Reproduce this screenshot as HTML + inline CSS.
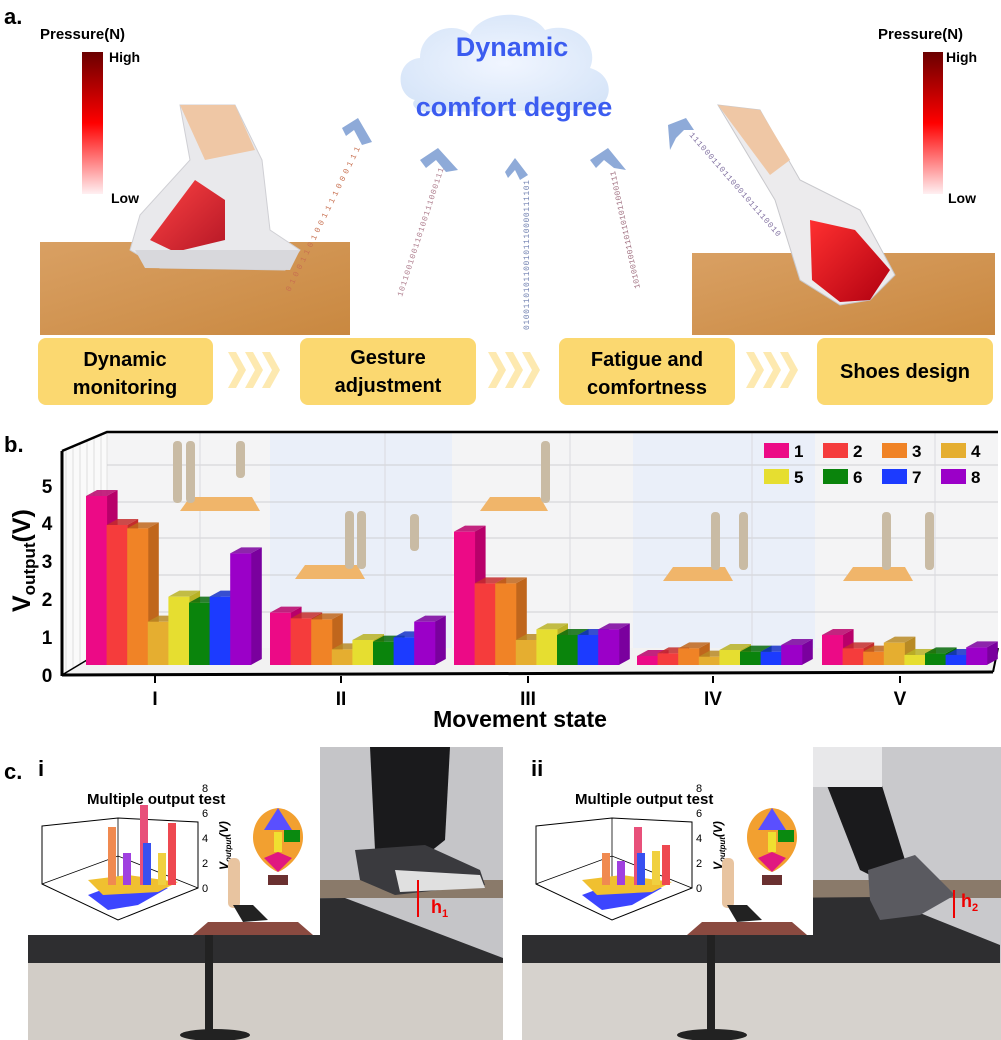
<!DOCTYPE html>
<html><head><meta charset="utf-8"><style>
html,body{margin:0;padding:0;background:#fff;}
svg{display:block;font-family:"Liberation Sans",sans-serif;}
</style></head><body>
<svg id="s" width="1001" height="1040" viewBox="0 0 1001 1040" xmlns="http://www.w3.org/2000/svg">
<defs>
<linearGradient id="cb" x1="0" y1="0" x2="0" y2="1">
<stop offset="0" stop-color="#6a0000"/><stop offset="0.5" stop-color="#ff0000"/><stop offset="1" stop-color="#fff0f2"/></linearGradient>
<linearGradient id="wood" x1="0" y1="0" x2="1" y2="1">
<stop offset="0" stop-color="#d9a063"/><stop offset="1" stop-color="#c98840"/></linearGradient>
<radialGradient id="cloud" cx="0.5" cy="0.5" r="0.6"><stop offset="0" stop-color="#eef4ff"/><stop offset="1" stop-color="#cfe0f7"/></radialGradient>
<linearGradient id="red1" x1="0" y1="0" x2="1" y2="1"><stop offset="0" stop-color="#ff3030"/><stop offset="1" stop-color="#b00010"/></linearGradient>
</defs>
<text x="4" y="24" font-size="22" font-weight="bold">a.</text>
<text x="40" y="39" font-size="15" font-weight="bold">Pressure(N)</text>
<rect x="82" y="52" width="21" height="142" fill="url(#cb)"/>
<text x="109" y="62" font-size="14" font-weight="bold">High</text>
<text x="111" y="203" font-size="14" font-weight="bold">Low</text>
<text x="878" y="39" font-size="15" font-weight="bold">Pressure(N)</text>
<rect x="923" y="52" width="20" height="142" fill="url(#cb)"/>
<text x="946" y="62" font-size="14" font-weight="bold">High</text>
<text x="948" y="203" font-size="14" font-weight="bold">Low</text>
<rect x="40" y="242" width="310" height="93" fill="url(#wood)"/>
<path d="M180 105 L235 105 L262 160 L270 230 L300 250 L285 270 L160 268 L130 250 L140 215 L190 160 Z" fill="#e9e9ec" stroke="#cfcfd4"/>
<path d="M180 105 L235 105 L255 150 L205 160 Z" fill="#efc7a5"/>
<path d="M150 240 L195 180 L225 200 L225 240 L175 252 Z" fill="url(#red1)" opacity="0.9"/>
<path d="M135 250 L300 250 L290 270 L145 268 Z" fill="#d8d8dc"/>
<rect x="692" y="253" width="303" height="82" fill="url(#wood)"/>
<path d="M718 105 L760 110 L800 180 L860 210 L895 275 L870 300 L840 305 L800 280 L775 200 Z" fill="#ecebed" stroke="#c8c8cc"/>
<path d="M718 105 L760 110 L790 160 L770 175 Z" fill="#efc7a5"/>
<path d="M810 220 L855 230 L890 270 L870 300 L840 302 L812 280 Z" fill="url(#red1)"/>
<path d="M415 100 C395 95 395 60 420 58 C420 30 455 20 470 35 C480 10 530 8 545 30 C575 20 600 45 590 68 C615 75 615 105 590 110 L430 112 C415 112 410 104 415 100 Z" fill="url(#cloud)" opacity="0.85"/>
<text x="512" y="56" font-size="27" font-weight="bold" fill="#3b5cf0" text-anchor="middle">Dynamic</text>
<text x="514" y="116" font-size="27" font-weight="bold" fill="#3b5cf0" text-anchor="middle">comfort degree</text>
<g fill="#8eaad8">
<path d="M342 128 L358 118 L372 142 L362 145 L354 130 L346 136 Z"/>
<path d="M420 160 L438 148 L458 170 L446 172 L436 160 L426 168 Z"/>
<path d="M505 172 L515 158 L528 175 L520 180 L515 170 L508 178 Z"/>
<path d="M590 160 L608 148 L626 170 L614 168 L604 160 L596 168 Z"/>
<path d="M668 125 L686 118 L694 130 L684 130 L676 138 L670 150 Z"/>
</g>
<g font-size="8" font-family="Liberation Mono,monospace" fill="#7080b0">
<text transform="translate(290,292) rotate(-64)" textLength="160" fill="#c87050">01001101001111000111</text>
<text transform="translate(402,297) rotate(-72)" textLength="135" fill="#b08090">101100100110100111000111</text>
<text transform="translate(529,330) rotate(-90)" textLength="150">0100110101100101110000111101</text>
<text transform="translate(640,288) rotate(-102)" textLength="120" fill="#a07080">101001001101101011000111</text>
<text transform="translate(689,135) rotate(49)" textLength="135" fill="#8070a0">111000110110001011110010</text>
</g>
<g fill="#fbd870">
<rect x="38" y="338" width="175" height="67" rx="8"/>
<rect x="300" y="338" width="176" height="67" rx="8"/>
<rect x="559" y="338" width="176" height="67" rx="8"/>
<rect x="817" y="338" width="176" height="67" rx="8"/>
</g>
<g fill="#fde9b0">
<path d="M228 352 l8 0 l10 18 l-10 18 l-8 0 l10 -18z"/><path d="M245 352 l8 0 l10 18 l-10 18 l-8 0 l10 -18z"/><path d="M262 352 l8 0 l10 18 l-10 18 l-8 0 l10 -18z"/>
<path d="M488 352 l8 0 l10 18 l-10 18 l-8 0 l10 -18z"/><path d="M505 352 l8 0 l10 18 l-10 18 l-8 0 l10 -18z"/><path d="M522 352 l8 0 l10 18 l-10 18 l-8 0 l10 -18z"/>
<path d="M746 352 l8 0 l10 18 l-10 18 l-8 0 l10 -18z"/><path d="M763 352 l8 0 l10 18 l-10 18 l-8 0 l10 -18z"/><path d="M780 352 l8 0 l10 18 l-10 18 l-8 0 l10 -18z"/>
</g>
<g font-size="20" font-weight="bold" text-anchor="middle">
<text x="125" y="366">Dynamic</text><text x="125" y="394">monitoring</text>
<text x="388" y="364">Gesture</text><text x="388" y="392">adjustment</text>
<text x="647" y="366">Fatigue and</text><text x="647" y="394">comfortness</text>
<text x="905" y="378">Shoes design</text>
</g>
<text x="4" y="452" font-size="22" font-weight="bold">b.</text>
<g id="chart"></g>
<text x="4" y="779" font-size="22" font-weight="bold">c.</text>
<g id="photo1">
<rect x="28" y="747" width="475" height="293" fill="#c5c5c8"/>
<rect x="28" y="880" width="475" height="18" fill="#8a7a6a"/>
<path d="M28 900 L345 898 L503 958 L503 963 L28 963 Z" fill="#2e2e30"/>
<rect x="28" y="963" width="475" height="77" fill="#d2cdc7"/>
<rect x="205" y="935" width="8" height="95" fill="#222"/>
<ellipse cx="215" cy="1035" rx="35" ry="6" fill="#222"/>
<path d="M370 747 L450 747 L445 840 L420 860 L375 850 Z" fill="#1a1a1c"/>
<path d="M355 850 L425 845 L480 870 L485 885 L395 895 L360 880 Z" fill="#3a3a3e"/>
<path d="M395 870 L480 875 L485 888 L400 892 Z" fill="#e0e0e0"/>
</g>
<g id="photo2">
<rect x="522" y="747" width="479" height="293" fill="#c9c9cc"/>
<rect x="522" y="880" width="479" height="18" fill="#8a7a6a"/>
<path d="M522 900 L880 897 L1000 945 L1000 963 L522 963 Z" fill="#2e2e30"/>
<rect x="522" y="963" width="479" height="77" fill="#d6d2cd"/>
<rect x="707" y="935" width="8" height="95" fill="#222"/>
<ellipse cx="712" cy="1035" rx="35" ry="6" fill="#222"/>
<path d="M812 747 L870 747 L905 860 L880 880 L860 870 Z" fill="#1a1a1c"/>
<rect x="812" y="747" width="70" height="40" fill="#e8e8ea"/>
<path d="M868 870 L915 855 L955 895 L920 915 L880 920 L870 900 Z" fill="#5a5a60"/>
</g>
<rect x="28" y="747" width="292" height="188" fill="#fff"/>
<rect x="522" y="747" width="291" height="188" fill="#fff"/>
<text x="38" y="776" font-size="22" font-weight="bold">i</text>
<text x="531" y="776" font-size="22" font-weight="bold">ii</text>
<text x="87" y="804" font-size="15" font-weight="bold">Multiple output test</text>
<text x="575" y="804" font-size="15" font-weight="bold">Multiple output test</text>
<g id="insets"></g>
<g stroke="#e00" stroke-width="2"><line x1="418" y1="880" x2="418" y2="917"/><line x1="954" y1="890" x2="954" y2="918"/></g>
<text x="431" y="913" font-size="18" font-weight="bold" fill="#e00">h<tspan font-size="11" dy="4">1</tspan></text>
<text x="961" y="907" font-size="18" font-weight="bold" fill="#e00">h<tspan font-size="11" dy="4">2</tspan></text>
</svg>
<script>
var NS="http://www.w3.org/2000/svg";
function el(p,t,a,txt){var e=document.createElementNS(NS,t);for(var k in a)e.setAttribute(k,a[k]);if(txt!=null)e.textContent=txt;p.appendChild(e);return e;}
var g=document.getElementById("chart");
var cols=[[107,270,"#f4f4f5"],[270,452,"#eaeff9"],[452,633,"#f4f4f5"],[633,815,"#eaeff9"],[815,998,"#f4f4f5"]];
cols.forEach(function(c){el(g,"rect",{x:c[0],y:432,width:c[1]-c[0],height:216,fill:c[2]});});
[465,502,538,575,612].forEach(function(y){el(g,"line",{x1:107,y1:y,x2:998,y2:y,stroke:"#cfcfd3","stroke-width":1});});
[200,385,570,752,935].forEach(function(x){el(g,"line",{x1:x,y1:432,x2:x,y2:648,stroke:"#dadade","stroke-width":1});});
el(g,"path",{d:"M62 451 L107 432 L107 648 L62 675 Z",fill:"#fafafa",stroke:"#ccc","stroke-width":0.5});
for(var i=0;i<6;i++){var x=66+i*7;el(g,"line",{x1:x,y1:449-i*3,x2:x,y2:673-i*4,stroke:"#ddd"});}
el(g,"path",{d:"M62 675 L107 648 L998 648 L993 672 Z",fill:"#f2f2f2"});
el(g,"path",{d:"M62 451 L107 432 L998 432",fill:"none",stroke:"#000","stroke-width":2.5});
el(g,"line",{x1:62,y1:451,x2:62,y2:676,stroke:"#000","stroke-width":3});
el(g,"line",{x1:62,y1:675,x2:993,y2:672,stroke:"#000","stroke-width":3});
el(g,"line",{x1:998,y1:648,x2:993,y2:672,stroke:"#000","stroke-width":2});
el(g,"line",{x1:62,y1:675,x2:107,y2:648,stroke:"#000","stroke-width":1.5});
var ty=[675,637,599,561,523,486];
ty.forEach(function(y,i){el(g,"text",{x:47,y:y+7,"font-size":19,"font-weight":"bold","text-anchor":"middle"},String(i));});
var yl=el(g,"text",{transform:"translate(30,612) rotate(-90)","font-size":25,"font-weight":"bold"},"V");
el(yl,"tspan",{"font-size":17,dy:5},"output");
el(yl,"tspan",{"font-size":25,dy:-5},"(V)");
["I","II","III","IV","V"].forEach(function(t,i){var x=[155,341,528,713,900][i];
 el(g,"line",{x1:x,y1:676,x2:x,y2:683,stroke:"#000","stroke-width":2});
 el(g,"text",{x:x,y:705,"font-size":19,"font-weight":"bold","text-anchor":"middle"},t);});
el(g,"text",{x:520,y:727,"font-size":23,"font-weight":"bold","text-anchor":"middle"},"Movement state");
function plate(x,y,w){el(g,"path",{d:"M"+(x+10)+" "+y+" L"+(x+w-8)+" "+y+" L"+(x+w)+" "+(y+14)+" L"+x+" "+(y+14)+" Z",fill:"#f0b56a"});}
plate(180,497,80);plate(295,565,70);plate(480,497,68);plate(663,567,70);plate(843,567,70);
function leg(x,y,h){el(g,"rect",{x:x,y:y,width:9,height:h,rx:4,fill:"#c9bba4"});}
leg(173,441,62);leg(186,441,62);leg(236,441,37);leg(345,511,58);leg(357,511,58);leg(410,514,37);
leg(541,441,62);leg(711,512,58);leg(739,512,58);leg(882,512,58);leg(925,512,58);
var C=["#ec0a86","#f53c3c","#f08326","#e5ae30","#e6de30","#0a840c","#1c3bff","#9b00c8"];
var D=["#b8006a","#c42c2c","#c0661c","#b88a24","#b8b226","#076a0a","#1530c8","#7a009e"];
for(var i=0;i<8;i++){var lx=[764,823,882,941][i%4],ly=i<4?443:469;
 el(g,"rect",{x:lx,y:ly,width:25,height:15,fill:C[i]});
 el(g,"text",{x:lx+30,y:ly+14,"font-size":17,"font-weight":"bold"},String(i+1));}
var starts=[86,270,454,637,822], W=20.6, dx=11, dy=6, base=665;
var tops=[[228,315,325,605,530,548,530,400],[578,595,598,688,660,665,652,605],[335,490,490,660,628,645,645,628],[708,700,685,710,690,695,695,675],[645,685,695,668,705,700,705,682]];
for(var gI=0;gI<5;gI++){for(var b=0;b<8;b++){
 var x=starts[gI]+b*W, t=420+tops[gI][b]/3;
 el(g,"path",{d:"M"+(x+W)+" "+t+" L"+(x+W+dx)+" "+(t-dy)+" L"+(x+W+dx)+" "+(base-dy)+" L"+(x+W)+" "+base+" Z",fill:D[b]});
 el(g,"path",{d:"M"+x+" "+t+" L"+(x+dx)+" "+(t-dy)+" L"+(x+W+dx)+" "+(t-dy)+" L"+(x+W)+" "+t+" Z",fill:D[b],opacity:0.85});
 el(g,"rect",{x:x,y:t,width:W+0.5,height:base-t,fill:C[b]});
}}
var ins=document.getElementById("insets");
function inset(ox,hs){
 var p="M"+(ox+14)+" 826 L"+(ox+90)+" 818 L"+(ox+170)+" 822 L"+(ox+170)+" 888 L"+(ox+90)+" 920 L"+(ox+14)+" 884 Z";
 el(ins,"path",{d:p,fill:"none",stroke:"#000","stroke-width":1});
 el(ins,"line",{x1:ox+90,y1:818,x2:ox+90,y2:880,stroke:"#000","stroke-width":0.8});
 el(ins,"path",{d:"M"+(ox+14)+" 884 L"+(ox+90)+" 856 L"+(ox+170)+" 888",fill:"none",stroke:"#000","stroke-width":0.8});
 [0,2,4,6,8].forEach(function(v,i){el(ins,"text",{x:ox+174,y:892-i*25,"font-size":11},String(v));});
 var vt=el(ins,"text",{transform:"translate("+(ox+200)+",870) rotate(-90)","font-size":12,"font-weight":"bold","font-style":"italic"},"V");
 el(vt,"tspan",{"font-size":8,dy:3},"output");el(vt,"tspan",{dy:-3},"(V)");
 el(ins,"path",{d:"M"+(ox+60)+" 895 L"+(ox+100)+" 880 L"+(ox+140)+" 888 L"+(ox+110)+" 905 L"+(ox+80)+" 910 Z",fill:"#3c45ff"});
 el(ins,"path",{d:"M"+(ox+60)+" 880 L"+(ox+100)+" 875 L"+(ox+150)+" 882 L"+(ox+130)+" 892 L"+(ox+75)+" 895 Z",fill:"#f0c030"});
 var bars=[[ox+80,hs[0],"#f08a50"],[ox+112,hs[1],"#e8507a"],[ox+140,hs[2],"#ee4850"],[ox+95,hs[3],"#a040e0"],[ox+115,hs[4],"#3850f0"],[ox+130,hs[5],"#f0d040"]];
 bars.forEach(function(bb){el(ins,"rect",{x:bb[0],y:885-bb[1],width:8,height:bb[1],fill:bb[2]});});
 var fx=ox+250;
 el(ins,"path",{d:"M"+fx+" 808 C"+(fx+20)+" 810 "+(fx+28)+" 830 "+(fx+24)+" 845 C"+(fx+20)+" 860 "+(fx+6)+" 870 "+fx+" 872 C"+(fx-6)+" 870 "+(fx-20)+" 860 "+(fx-24)+" 845 C"+(fx-28)+" 830 "+(fx-20)+" 810 "+fx+" 808 Z",fill:"#f2a030"});
 el(ins,"path",{d:"M"+fx+" 808 L"+(fx-14)+" 830 L"+(fx+14)+" 830 Z",fill:"#5a4fff"});
 el(ins,"path",{d:"M"+(fx-14)+" 858 L"+fx+" 872 L"+(fx+14)+" 858 L"+fx+" 852 Z",fill:"#e01880"});
 el(ins,"rect",{x:fx-4,y:832,width:8,height:20,fill:"#f0e030"});
 el(ins,"rect",{x:fx+6,y:830,width:16,height:12,fill:"#0a8a10"});
 el(ins,"rect",{x:ox+200,y:858,width:12,height:50,rx:5,fill:"#e8c4a0"});
 el(ins,"path",{d:"M"+(ox+205)+" 905 L"+(ox+225)+" 905 L"+(ox+240)+" 920 L"+(ox+215)+" 922 Z",fill:"#222"});
 el(ins,"path",{d:"M"+(ox+180)+" 922 L"+(ox+270)+" 922 L"+(ox+285)+" 935 L"+(ox+165)+" 935 Z",fill:"#8a4a40"});
 el(ins,"rect",{x:ox+240,y:875,width:20,height:10,fill:"#6a3030"});
}
inset(28,[58,80,62,32,42,32]);
inset(522,[32,58,40,24,32,34]);
</script>
</body></html>
